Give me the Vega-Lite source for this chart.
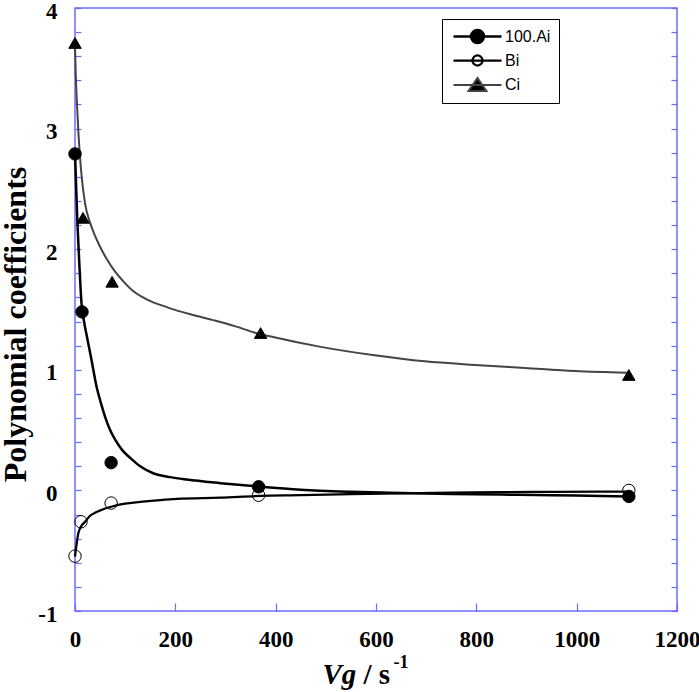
{
  "$schema": "https://vega.github.io/schema/vega-lite/v6.json",
  "width": 602,
  "height": 603,
  "autosize": "none",
  "padding": {"left": 75, "top": 8, "right": 22, "bottom": 81},
  "background": "white",
  "datasets": {
    "fit": [
      {"s": "100.Ai", "vg": 0, "v": 2.80},
      {"s": "100.Ai", "vg": 2, "v": 2.55},
      {"s": "100.Ai", "vg": 5, "v": 2.20},
      {"s": "100.Ai", "vg": 9, "v": 1.85},
      {"s": "100.Ai", "vg": 13, "v": 1.55},
      {"s": "100.Ai", "vg": 18, "v": 1.40},
      {"s": "100.Ai", "vg": 25, "v": 1.25},
      {"s": "100.Ai", "vg": 33, "v": 1.08},
      {"s": "100.Ai", "vg": 43, "v": 0.86},
      {"s": "100.Ai", "vg": 52, "v": 0.72},
      {"s": "100.Ai", "vg": 60, "v": 0.61},
      {"s": "100.Ai", "vg": 70, "v": 0.50},
      {"s": "100.Ai", "vg": 80, "v": 0.42},
      {"s": "100.Ai", "vg": 95, "v": 0.33},
      {"s": "100.Ai", "vg": 110, "v": 0.27},
      {"s": "100.Ai", "vg": 130, "v": 0.20},
      {"s": "100.Ai", "vg": 157, "v": 0.14},
      {"s": "100.Ai", "vg": 190, "v": 0.11},
      {"s": "100.Ai", "vg": 223, "v": 0.09},
      {"s": "100.Ai", "vg": 290, "v": 0.06},
      {"s": "100.Ai", "vg": 370, "v": 0.03},
      {"s": "100.Ai", "vg": 450, "v": 0.005},
      {"s": "100.Ai", "vg": 550, "v": -0.012},
      {"s": "100.Ai", "vg": 650, "v": -0.022},
      {"s": "100.Ai", "vg": 750, "v": -0.03},
      {"s": "100.Ai", "vg": 850, "v": -0.035},
      {"s": "100.Ai", "vg": 950, "v": -0.04},
      {"s": "100.Ai", "vg": 1050, "v": -0.046},
      {"s": "100.Ai", "vg": 1100, "v": -0.05},
      {"s": "Bi", "vg": 0, "v": -0.55},
      {"s": "Bi", "vg": 3, "v": -0.45},
      {"s": "Bi", "vg": 7, "v": -0.35},
      {"s": "Bi", "vg": 12, "v": -0.30},
      {"s": "Bi", "vg": 20, "v": -0.26},
      {"s": "Bi", "vg": 30, "v": -0.21},
      {"s": "Bi", "vg": 43, "v": -0.18},
      {"s": "Bi", "vg": 60, "v": -0.15},
      {"s": "Bi", "vg": 77, "v": -0.13},
      {"s": "Bi", "vg": 100, "v": -0.11},
      {"s": "Bi", "vg": 130, "v": -0.096},
      {"s": "Bi", "vg": 170, "v": -0.08},
      {"s": "Bi", "vg": 203, "v": -0.07},
      {"s": "Bi", "vg": 290, "v": -0.06},
      {"s": "Bi", "vg": 370, "v": -0.046},
      {"s": "Bi", "vg": 450, "v": -0.04},
      {"s": "Bi", "vg": 550, "v": -0.03},
      {"s": "Bi", "vg": 650, "v": -0.024},
      {"s": "Bi", "vg": 750, "v": -0.018},
      {"s": "Bi", "vg": 850, "v": -0.014},
      {"s": "Bi", "vg": 950, "v": -0.012},
      {"s": "Bi", "vg": 1050, "v": -0.01},
      {"s": "Bi", "vg": 1100, "v": -0.01},
      {"s": "Ci", "vg": 0, "v": 3.68},
      {"s": "Ci", "vg": 1.5, "v": 3.45},
      {"s": "Ci", "vg": 3.3, "v": 3.26},
      {"s": "Ci", "vg": 7, "v": 2.95},
      {"s": "Ci", "vg": 12, "v": 2.66},
      {"s": "Ci", "vg": 20, "v": 2.38},
      {"s": "Ci", "vg": 30, "v": 2.22},
      {"s": "Ci", "vg": 40, "v": 2.11},
      {"s": "Ci", "vg": 50, "v": 2.02},
      {"s": "Ci", "vg": 63, "v": 1.92},
      {"s": "Ci", "vg": 77, "v": 1.83},
      {"s": "Ci", "vg": 95, "v": 1.74},
      {"s": "Ci", "vg": 114, "v": 1.66},
      {"s": "Ci", "vg": 145, "v": 1.58},
      {"s": "Ci", "vg": 183, "v": 1.52},
      {"s": "Ci", "vg": 230, "v": 1.46},
      {"s": "Ci", "vg": 277, "v": 1.41},
      {"s": "Ci", "vg": 320, "v": 1.36},
      {"s": "Ci", "vg": 357, "v": 1.31},
      {"s": "Ci", "vg": 397, "v": 1.27},
      {"s": "Ci", "vg": 490, "v": 1.19},
      {"s": "Ci", "vg": 597, "v": 1.12},
      {"s": "Ci", "vg": 697, "v": 1.07},
      {"s": "Ci", "vg": 797, "v": 1.04},
      {"s": "Ci", "vg": 897, "v": 1.015},
      {"s": "Ci", "vg": 997, "v": 0.99},
      {"s": "Ci", "vg": 1100, "v": 0.975}
    ],
    "obs": [
      {"s": "100.Ai", "vg": 0, "v": 2.79},
      {"s": "100.Ai", "vg": 14, "v": 1.48},
      {"s": "100.Ai", "vg": 72, "v": 0.23},
      {"s": "100.Ai", "vg": 366, "v": 0.03},
      {"s": "100.Ai", "vg": 1104, "v": -0.05},
      {"s": "Bi", "vg": 0, "v": -0.545},
      {"s": "Bi", "vg": 12, "v": -0.26},
      {"s": "Bi", "vg": 72, "v": -0.105},
      {"s": "Bi", "vg": 366, "v": -0.04},
      {"s": "Bi", "vg": 1104, "v": 0.0},
      {"s": "Ci", "vg": 0, "v": 3.71},
      {"s": "Ci", "vg": 16, "v": 2.26},
      {"s": "Ci", "vg": 74, "v": 1.73},
      {"s": "Ci", "vg": 370, "v": 1.305},
      {"s": "Ci", "vg": 1104, "v": 0.957}
    ]
  },
  "config": {
    "view": {"stroke": "#6b6bff", "strokeWidth": 1.5},
    "axis": {
      "domain": false,
      "grid": false,
      "labelFlush": false,
      "tickColor": "#6b6bff",
      "tickWidth": 1.2,
      "labelFont": "Liberation Serif",
      "labelFontWeight": "bold",
      "labelFontSize": 23,
      "labelColor": "black",
      "titleFont": "Liberation Serif",
      "titleFontWeight": "bold",
      "titleColor": "black"
    },
    "legend": {
      "labelFont": "Liberation Sans",
      "labelFontSize": 16,
      "labelColor": "black",
      "strokeColor": "black",
      "fillColor": "white",
      "padding": 8,
      "symbolSize": 256,
      "rowPadding": 2,
      "symbolOffset": 18,
      "labelOffset": 18
    }
  },
  "resolve": {"axis": {"x": "independent", "y": "independent"}},
  "layer": [
    {
      "data": {"name": "fit"},
      "mark": {"type": "line", "interpolate": "monotone"},
      "encoding": {
        "x": {
          "field": "vg", "type": "quantitative",
          "scale": {"domain": [0, 1200], "nice": false, "zero": false},
          "axis": {
            "orient": "bottom",
            "values": [0, 200, 400, 600, 800, 1000, 1200],
            "format": "d",
            "tickSize": -8,
            "labelPadding": 25,
            "title": "Vg",
            "titleFontSize": 29,
            "titleFontStyle": "italic",
            "titleX": 247,
            "titleY": 72,
            "titleAlign": "left",
            "titleBaseline": "alphabetic"
          }
        },
        "y": {
          "field": "v", "type": "quantitative",
          "scale": {"domain": [-1, 4], "nice": false, "zero": false},
          "axis": {
            "orient": "left",
            "values": [-1, -0.8, -0.6, -0.4, -0.2, 0, 0.2, 0.4, 0.6, 0.8, 1, 1.2, 1.4, 1.6, 1.8, 2, 2.2, 2.4, 2.6, 2.8, 3, 3.2, 3.4, 3.6, 3.8, 4],
            "labelExpr": "datum.value % 1 === 0 ? '' + datum.value : ''",
            "tickSize": -6,
            "labelPadding": 24,
            "labelOffset": 3,
            "title": "Polynomial coefficients",
            "titleFontSize": 32,
            "titleAngle": 270,
            "titleX": -50,
            "titleY": 316,
            "titleAlign": "center",
            "titleBaseline": "alphabetic"
          }
        },
        "detail": {"field": "s"},
        "color": {
          "field": "s", "type": "nominal",
          "scale": {"domain": ["100.Ai", "Bi", "Ci"], "range": ["black", "black", "#444444"]},
          "legend": {
            "title": null,
            "orient": "none",
            "legendX": 367,
            "legendY": 11,
            "encode": {
              "symbols": {
                "update": {
                  "shape": {"signal": "datum.value === 'Ci' ? 'M-3,0H3M0,-0.88L1.12,0.75L-1.12,0.75Z' : datum.value === 'Bi' ? 'M-3,0H3M-0.63,0A0.63,0.63,0,1,0,0.63,0A0.63,0.63,0,1,0,-0.63,0Z' : 'M-3,0H3M-0.81,0A0.81,0.81,0,1,0,0.81,0A0.81,0.81,0,1,0,-0.81,0Z'"},
                  "fill": {"signal": "datum.value === 'Bi' ? 'transparent' : 'black'"},
                  "opacity": {"value": 1}
                }
              }
            }
          }
        },
        "strokeWidth": {
          "field": "s", "type": "nominal",
          "scale": {"domain": ["100.Ai", "Bi", "Ci"], "range": [2.5, 2, 1]}
        }
      }
    },
    {
      "data": {"name": "obs"},
      "mark": {"type": "point", "stroke": "black", "strokeWidth": 1, "opacity": 1},
      "encoding": {
        "x": {
          "field": "vg", "type": "quantitative",
          "axis": {
            "orient": "top",
            "ticks": false,
            "labels": false,
            "title": "/ s",
            "titleFontSize": 29,
            "titleX": 288,
            "titleY": 675,
            "titleAlign": "left",
            "titleBaseline": "alphabetic"
          }
        },
        "y": {
          "field": "v", "type": "quantitative",
          "axis": {
            "orient": "right",
            "values": [-1, -0.8, -0.6, -0.4, -0.2, 0, 0.2, 0.4, 0.6, 0.8, 1, 1.2, 1.4, 1.6, 1.8, 2, 2.2, 2.4, 2.6, 2.8, 3, 3.2, 3.4, 3.6, 3.8, 4],
            "labels": false,
            "tickSize": -6,
            "title": "-1",
            "titleFontSize": 18,
            "titleAngle": 0,
            "titleX": -284,
            "titleY": 659,
            "titleAlign": "left",
            "titleBaseline": "alphabetic"
          }
        },
        "shape": {
          "field": "s", "type": "nominal", "legend": null,
          "scale": {"domain": ["Bi", "100.Ai", "Ci"], "range": ["circle", "circle", "triangle-up"]}
        },
        "fill": {
          "field": "s", "type": "nominal", "legend": null,
          "scale": {"domain": ["Bi", "100.Ai", "Ci"], "range": ["transparent", "black", "black"]}
        },
        "size": {
          "field": "s", "type": "nominal", "legend": null,
          "scale": {"domain": ["Bi", "100.Ai", "Ci"], "range": [154, 154, 340]}
        }
      }
    }
  ]
}
